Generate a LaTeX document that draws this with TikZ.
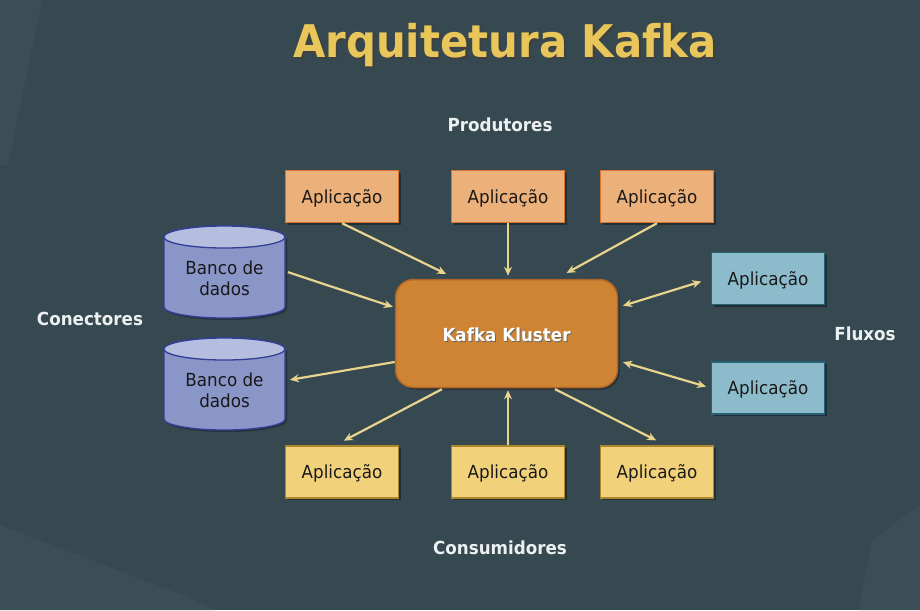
\documentclass[tikz,border=0pt]{standalone}
\usepackage{fontspec}
\setmainfont[FakeStretch=0.93]{DejaVu Sans}
\usetikzlibrary{arrows.meta,calc,shadows}
\definecolor{bg}{RGB}{54,72,80}
\definecolor{bglight}{RGB}{59,77,85}
\definecolor{prodfill}{RGB}{236,176,122}
\definecolor{prodline}{RGB}{214,118,48}
\definecolor{consfill}{RGB}{241,210,122}
\definecolor{consline}{RGB}{170,134,46}
\definecolor{strfill}{RGB}{140,188,204}
\definecolor{strline}{RGB}{38,98,118}
\definecolor{dbfill}{RGB}{138,149,200}
\definecolor{dbtop}{RGB}{182,190,224}
\definecolor{dbline}{RGB}{52,62,150}
\definecolor{kfill}{RGB}{207,132,52}
\definecolor{kline}{RGB}{176,100,40}
\definecolor{arrc}{RGB}{232,212,140}
\definecolor{titlec}{RGB}{232,198,90}
\definecolor{lbl}{RGB}{236,240,240}
\tikzset{
  shad/.style={drop shadow={shadow xshift=2pt,shadow yshift=-2pt,opacity=0.35,fill=black}},
  appbox/.style={draw, line width=1.4pt, minimum width=113pt, minimum height=52pt, inner sep=0pt,
    text height=13pt, text depth=0pt, font=\fontsize{18}{21}\selectfont, text=black!90, shad},
  prod/.style={appbox, fill=prodfill, draw=prodline},
  cons/.style={appbox, fill=consfill, draw=consline},
  strm/.style={appbox, fill=strfill, draw=strline},
  dbtext/.style={align=center, inner sep=0pt, font=\fontsize{18}{21}\selectfont, text=black!90},
  grp/.style={font=\bfseries\fontsize{18}{21}\selectfont, text=lbl, inner sep=0pt},
  arr/.style={draw=arrc, line width=2.2pt, -{Stealth[length=9pt,width=8pt]}},
  arrb/.style={draw=arrc, line width=2.2pt, {Stealth[length=9pt,width=8pt]}-{Stealth[length=9pt,width=8pt]}},
}
\begin{document}
\begin{tikzpicture}[x=1pt,y=-1pt]
\fill[bg] (0,0) rectangle (920,610);
\useasboundingbox (0,0) rectangle (920,610);
% faint background shapes
\fill[bglight] (0,0) -- (42,0) -- (8,165) -- (0,165) -- cycle;
\fill[bglight] (0,525) -- (190,598) -- (215,610) -- (0,610) -- cycle;
\fill[bglight] (872,540) -- (920,505) -- (920,610) -- (858,610) -- cycle;
% title (with its shadow)
\node[anchor=base, font=\bfseries\fontsize{45}{50}\selectfont, text=titlec] (title) at (505,57)
  {\rlap{\kern2pt\raisebox{-2pt}{\color{black!75}Arquitetura Kafka}}Arquitetura Kafka};
% group labels
\node[grp] (lprod) at (500,125) {Produtores};
\node[grp] (lcon) at (90,319) {Conectores};
\node[grp] (lflu) at (865,334) {Fluxos};
\node[grp] (lcons) at (500,548) {Consumidores};
% kafka
\node[draw=kline, fill=kfill, line width=1.5pt, rounded corners=18pt, minimum width=222pt, minimum height=108pt,
  shad] (k) at (506.5,333.5) {};
\node[anchor=base, font=\bfseries\fontsize{18}{21}\selectfont, text=white] (kt) at (506.5,341)
  {\rlap{\kern1pt\raisebox{-1pt}{\color{black!60}Kafka Kluster}}Kafka Kluster};
% producers
\node[prod] (p1) at (342,196.5) {Aplicação};
\node[prod] (p2) at (508,196.5) {Aplicação};
\node[prod] (p3) at (657,196.5) {Aplicação};
% consumers
\node[cons] (c1) at (342,472) {Aplicação};
\node[cons] (c2) at (508,472) {Aplicação};
\node[cons] (c3) at (657,472) {Aplicação};
% streams
\node[strm] (s1) at (768,278.5) {Aplicação};
\node[strm] (s2) at (768,388) {Aplicação};
% databases
\foreach \nm/\cy in {db1/278.5, db2/390.5} {
  \begin{scope}[shift={(224.5,\cy)}]
    \fill[black, opacity=0.3] (-58.5,-39.5) -- (-58.5,30.5) arc[start angle=180,end angle=360,x radius=60.5pt,y radius=11pt] -- (62.5,-39.5) -- cycle;
    \draw[dbline, fill=dbfill, line width=1.3pt] (-60.5,-41.5) -- (-60.5,28.5)
      arc[start angle=180,end angle=360,x radius=60.5pt,y radius=11pt] -- (60.5,-41.5)
      arc[start angle=0,end angle=180,x radius=60.5pt,y radius=11pt] -- cycle;
    \draw[dbline, fill=dbtop, line width=1.3pt] (0,-41.5) ellipse[x radius=60.5pt,y radius=11pt];
  \end{scope}
  \node[dbtext] (\nm) at (224.5,\cy) {Banco de\\dados};
}
% connectors
\draw[arr, shorten >=11pt] (p1.south) -- ($(k.north west)!0.274!(k.north east)$);
\draw[arr, shorten >=3pt] (p2.south) -- (p2.south |- k.north);
\draw[arr, shorten >=12pt] (p3.south) -- ($(k.north west)!0.722!(k.north east)$);
\draw[arr, shorten <=2pt, shorten >=2pt] ($(db1.center)+(61.5,-7)$) -- ($(k.north west)!0.263!(k.south west)$);
\draw[arr, shorten >=4pt] ($(k.north west)!0.76!(k.south west)$) -- ($(db2.center)+(61.5,-10)$);
\draw[arr, shorten <=2pt, shorten >=10pt] ($(k.south west)!0.219!(k.south east)$) -- ($(c1.north)+(-7,0)$);
\draw[arr, shorten >=2pt] (c2.north) -- (c2.north |- k.south);
\draw[arr, shorten <=2pt, shorten >=11pt] ($(k.south west)!0.709!(k.south east)$) -- ($(c3.north)+(9,0)$);
\draw[arrb, shorten <=5pt, shorten >=10pt] ($(k.north east)!0.26!(k.south east)$) -- (s1.west);
\draw[arrb, shorten <=5pt, shorten >=5pt] ($(k.north east)!0.749!(k.south east)$) -- (s2.west);
\end{tikzpicture}
\end{document}
